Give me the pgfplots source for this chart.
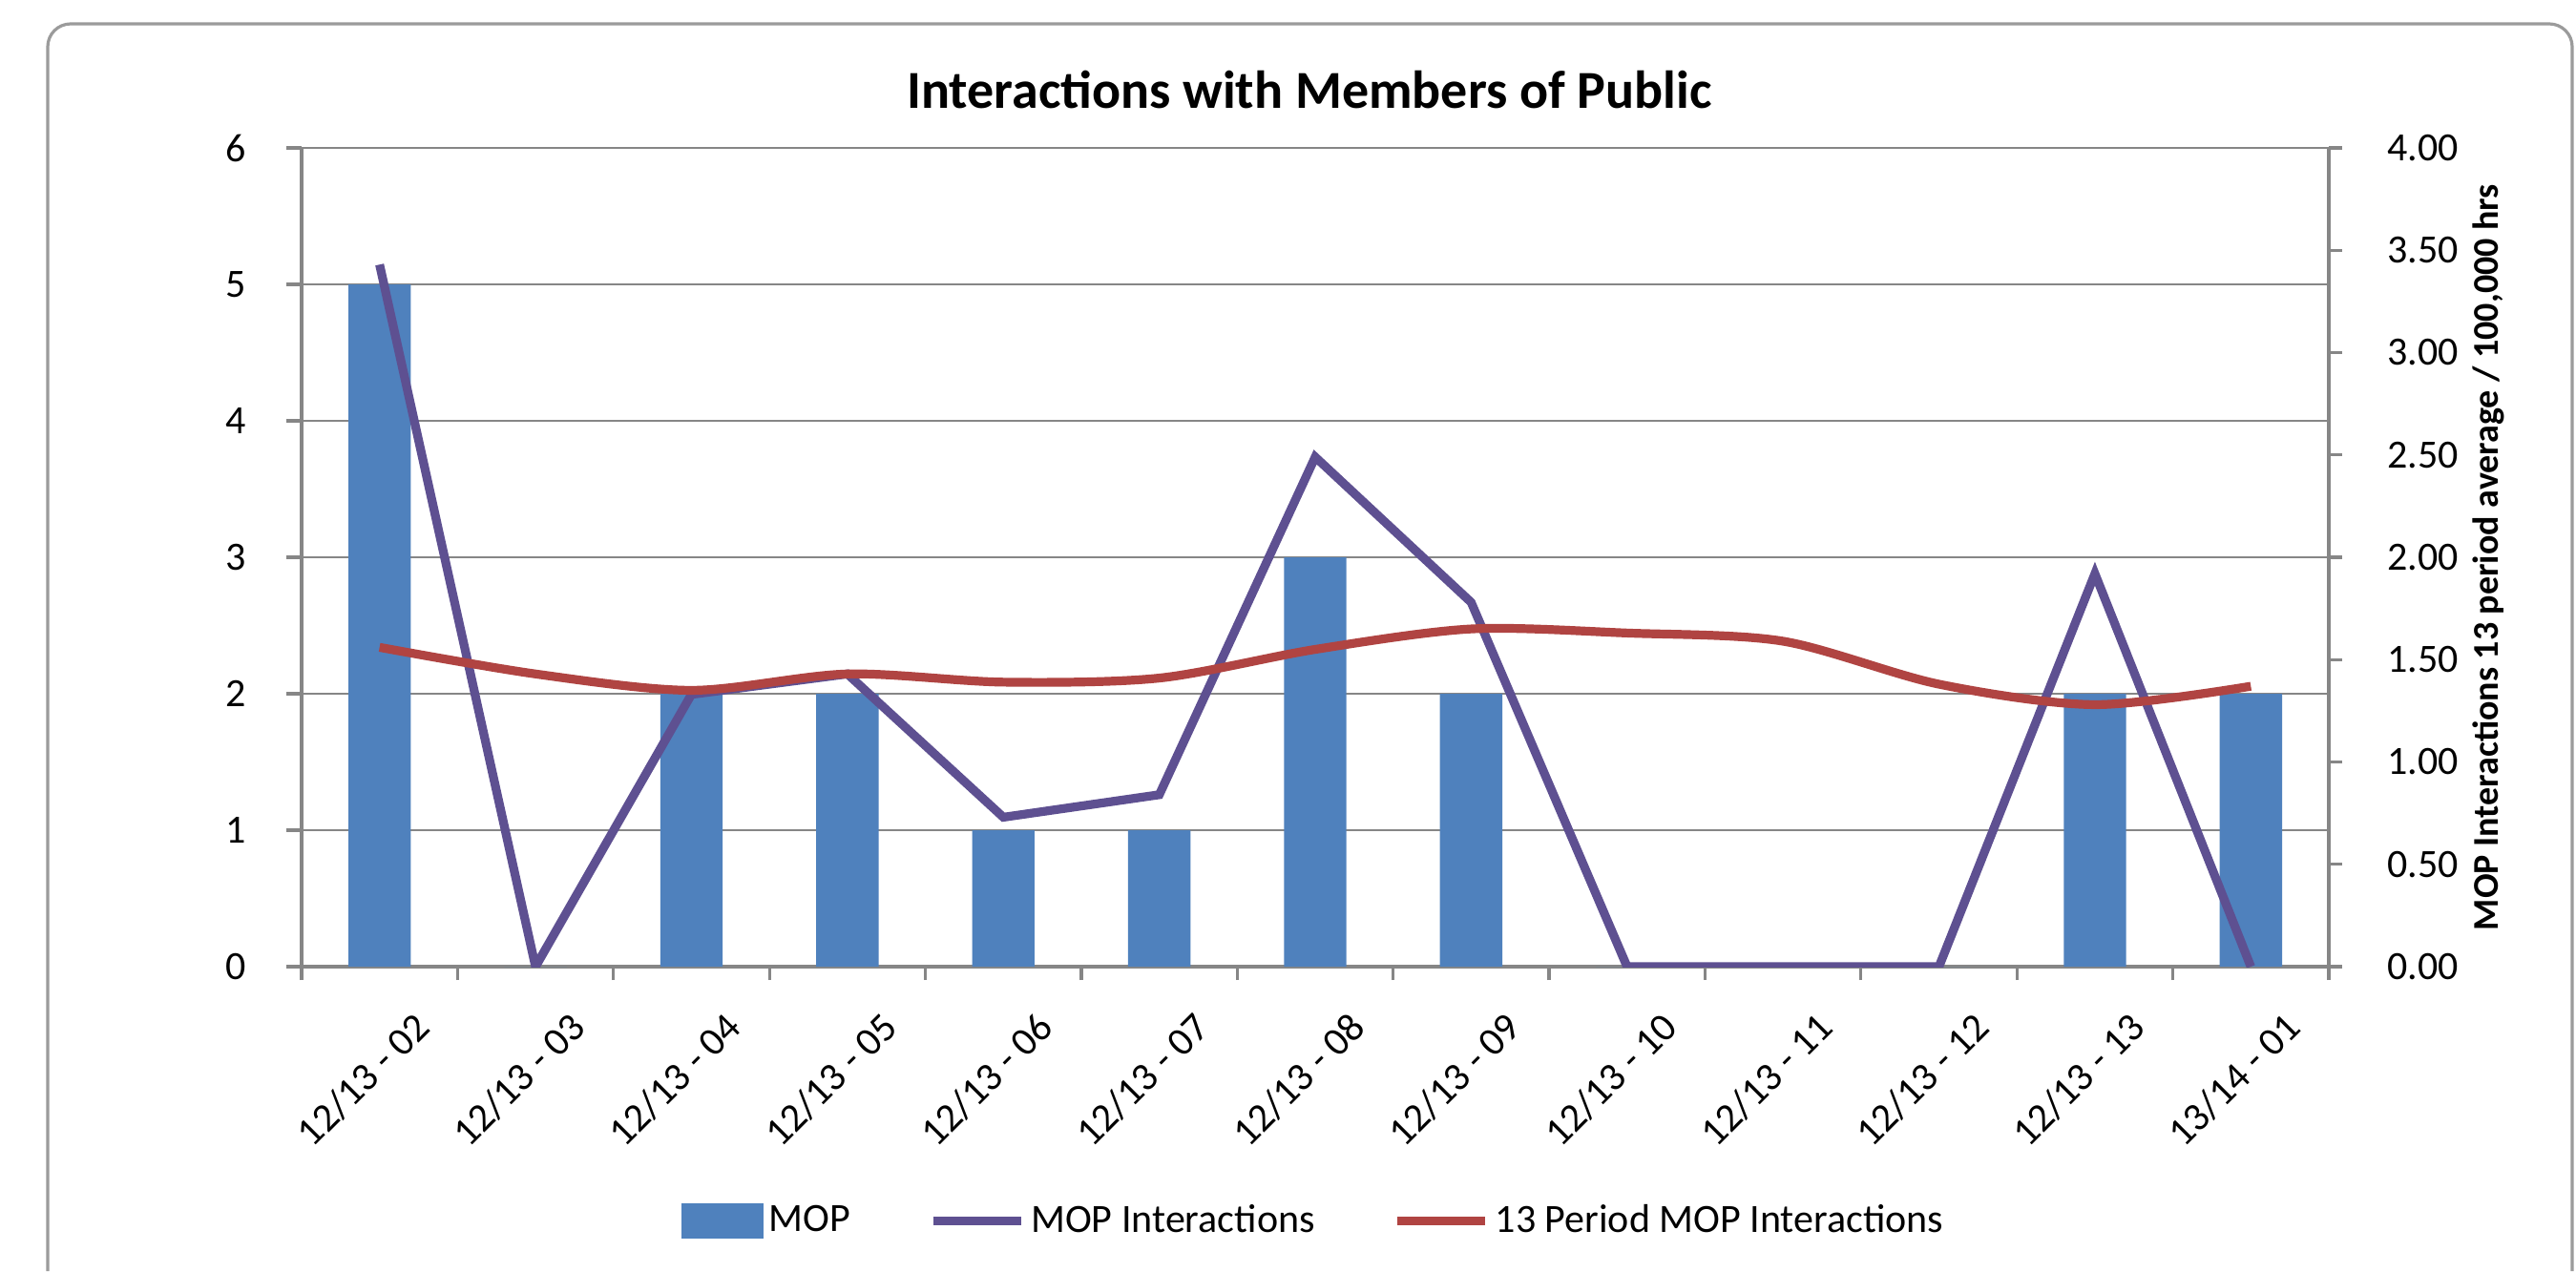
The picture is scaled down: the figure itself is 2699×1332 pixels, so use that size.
\documentclass[border=0pt]{standalone}
\usepackage{fontspec}
\setmainfont{Carlito}
\usepackage{pgfplots}
\pgfplotsset{compat=1.18}
\definecolor{mopblue}{RGB}{79,129,189}
\definecolor{moppurple}{RGB}{94,80,145}
\definecolor{mopred}{RGB}{176,68,66}
\definecolor{gridgray}{RGB}{134,134,134}
\definecolor{framegray}{RGB}{155,155,155}

\begin{document}
\begin{tikzpicture}[x=0.25pt,y=0.25pt]
\useasboundingbox (0,0) rectangle (2699,1332);
\fill[white] (0,0) rectangle (2699,1332);
\draw[framegray, line width=0.8pt, rounded corners=6pt] (50,0) -- (50,1307) -- (2695,1307) -- (2695,0);
\node[font=\bfseries\fontsize{14}{16}\selectfont] at (1372,1238) {Interactions with Members of Public};

\begin{axis}[
  at={(79pt,79.75pt)}, anchor=south west,
  scale only axis, width=531pt, height=214.5pt,
  xmin=-0.5, xmax=12.5, ymin=0, ymax=6,
  axis x line*=bottom, axis y line*=left,
  axis line style={gridgray, line width=0.8pt, -},
  ytick={0,1,...,6},
  ymajorgrids,
  grid style={gridgray, line width=0.7pt},
  tick align=outside,
  major tick length=4pt,
  tick style={gridgray, line width=0.8pt},
  ticklabel style={font=\fontsize{10.5}{12}\selectfont},
  /pgf/number format/assume math mode=true,
  yticklabel style={anchor=east, xshift=-7pt},
  xtick={0,1,...,12},
  xticklabels={12/13 - 02,12/13 - 03,12/13 - 04,12/13 - 05,12/13 - 06,12/13 - 07,12/13 - 08,12/13 - 09,12/13 - 10,12/13 - 11,12/13 - 12,12/13 - 13,13/14 - 01},
  xtick style={draw=none},
  xticklabel style={rotate=45, anchor=north east, inner sep=0pt, xshift=1pt, yshift=-11pt},
  extra x ticks={-0.5,0.5,1.5,2.5,3.5,4.5,5.5,6.5,7.5,8.5,9.5,10.5,11.5,12.5},
  extra x tick labels={},
  extra x tick style={xtick style={draw=gridgray}, major tick length=3.5pt, grid=none},
]
\addplot[ybar, fill=mopblue, draw=none, bar width=0.4] coordinates {
  (0,5) (1,0) (2,2) (3,2) (4,1) (5,1) (6,3) (7,2) (8,0) (9,0) (10,0) (11,2) (12,2)
};
\end{axis}

\begin{axis}[
  at={(79pt,79.75pt)}, anchor=south west,
  scale only axis, width=531pt, height=214.5pt,
  xmin=-0.5, xmax=12.5, ymin=0, ymax=4,
  axis x line=none, axis y line*=right,
  axis line style={gridgray, line width=0.8pt, -},
  ytick={0,0.5,1,1.5,2,2.5,3,3.5,4},
  tick align=outside,
  major tick length=3.5pt,
  tick style={gridgray, line width=0.8pt},
  ticklabel style={font=\fontsize{10.5}{12}\selectfont},
  /pgf/number format/assume math mode=true,
  /pgf/number format/fixed,
  /pgf/number format/fixed zerofill,
  /pgf/number format/precision=2,
  yticklabel style={anchor=west, xshift=8.25pt},
  ylabel={MOP Interactions 13 period average / 100,000 hrs},
  ylabel style={font=\bfseries\fontsize{9.5}{11}\selectfont, at={(axis description cs:1.079,0.5)}, anchor=center},
  legend style={at={(0.5,-0.311)}, anchor=center, draw=none, fill=none,
    font=\fontsize{10.5}{12}\selectfont,
    /tikz/every even column/.append style={column sep=19pt},
    nodes={inner sep=1.5pt}, cells={anchor=west}},
  legend columns=3,
  legend image code/.code={\draw[#1] (0pt,0pt) -- (23pt,0pt);},
]
\addlegendimage{legend image code/.code={\fill[mopblue] (0pt,-4.4pt) rectangle (21pt,4.4pt);}}
\addlegendentry{MOP}
\addplot[moppurple, line width=2.3pt] coordinates {
  (0,3.43) (1,0) (2,1.33) (3,1.43) (4,0.73) (5,0.84) (6,2.49) (7,1.78) (8,0) (9,0) (10,0) (11,1.92) (12,0)
};
\addlegendentry{MOP Interactions}
\addplot[mopred, line width=2.3pt, smooth] coordinates {
  (0,1.56) (1,1.43) (2,1.35) (3,1.43) (4,1.39) (5,1.41) (6,1.55) (7,1.65) (8,1.63) (9,1.59) (10,1.38) (11,1.28) (12,1.37)
};
\addlegendentry{13 Period MOP Interactions}
\end{axis}
\end{tikzpicture}
\end{document}
